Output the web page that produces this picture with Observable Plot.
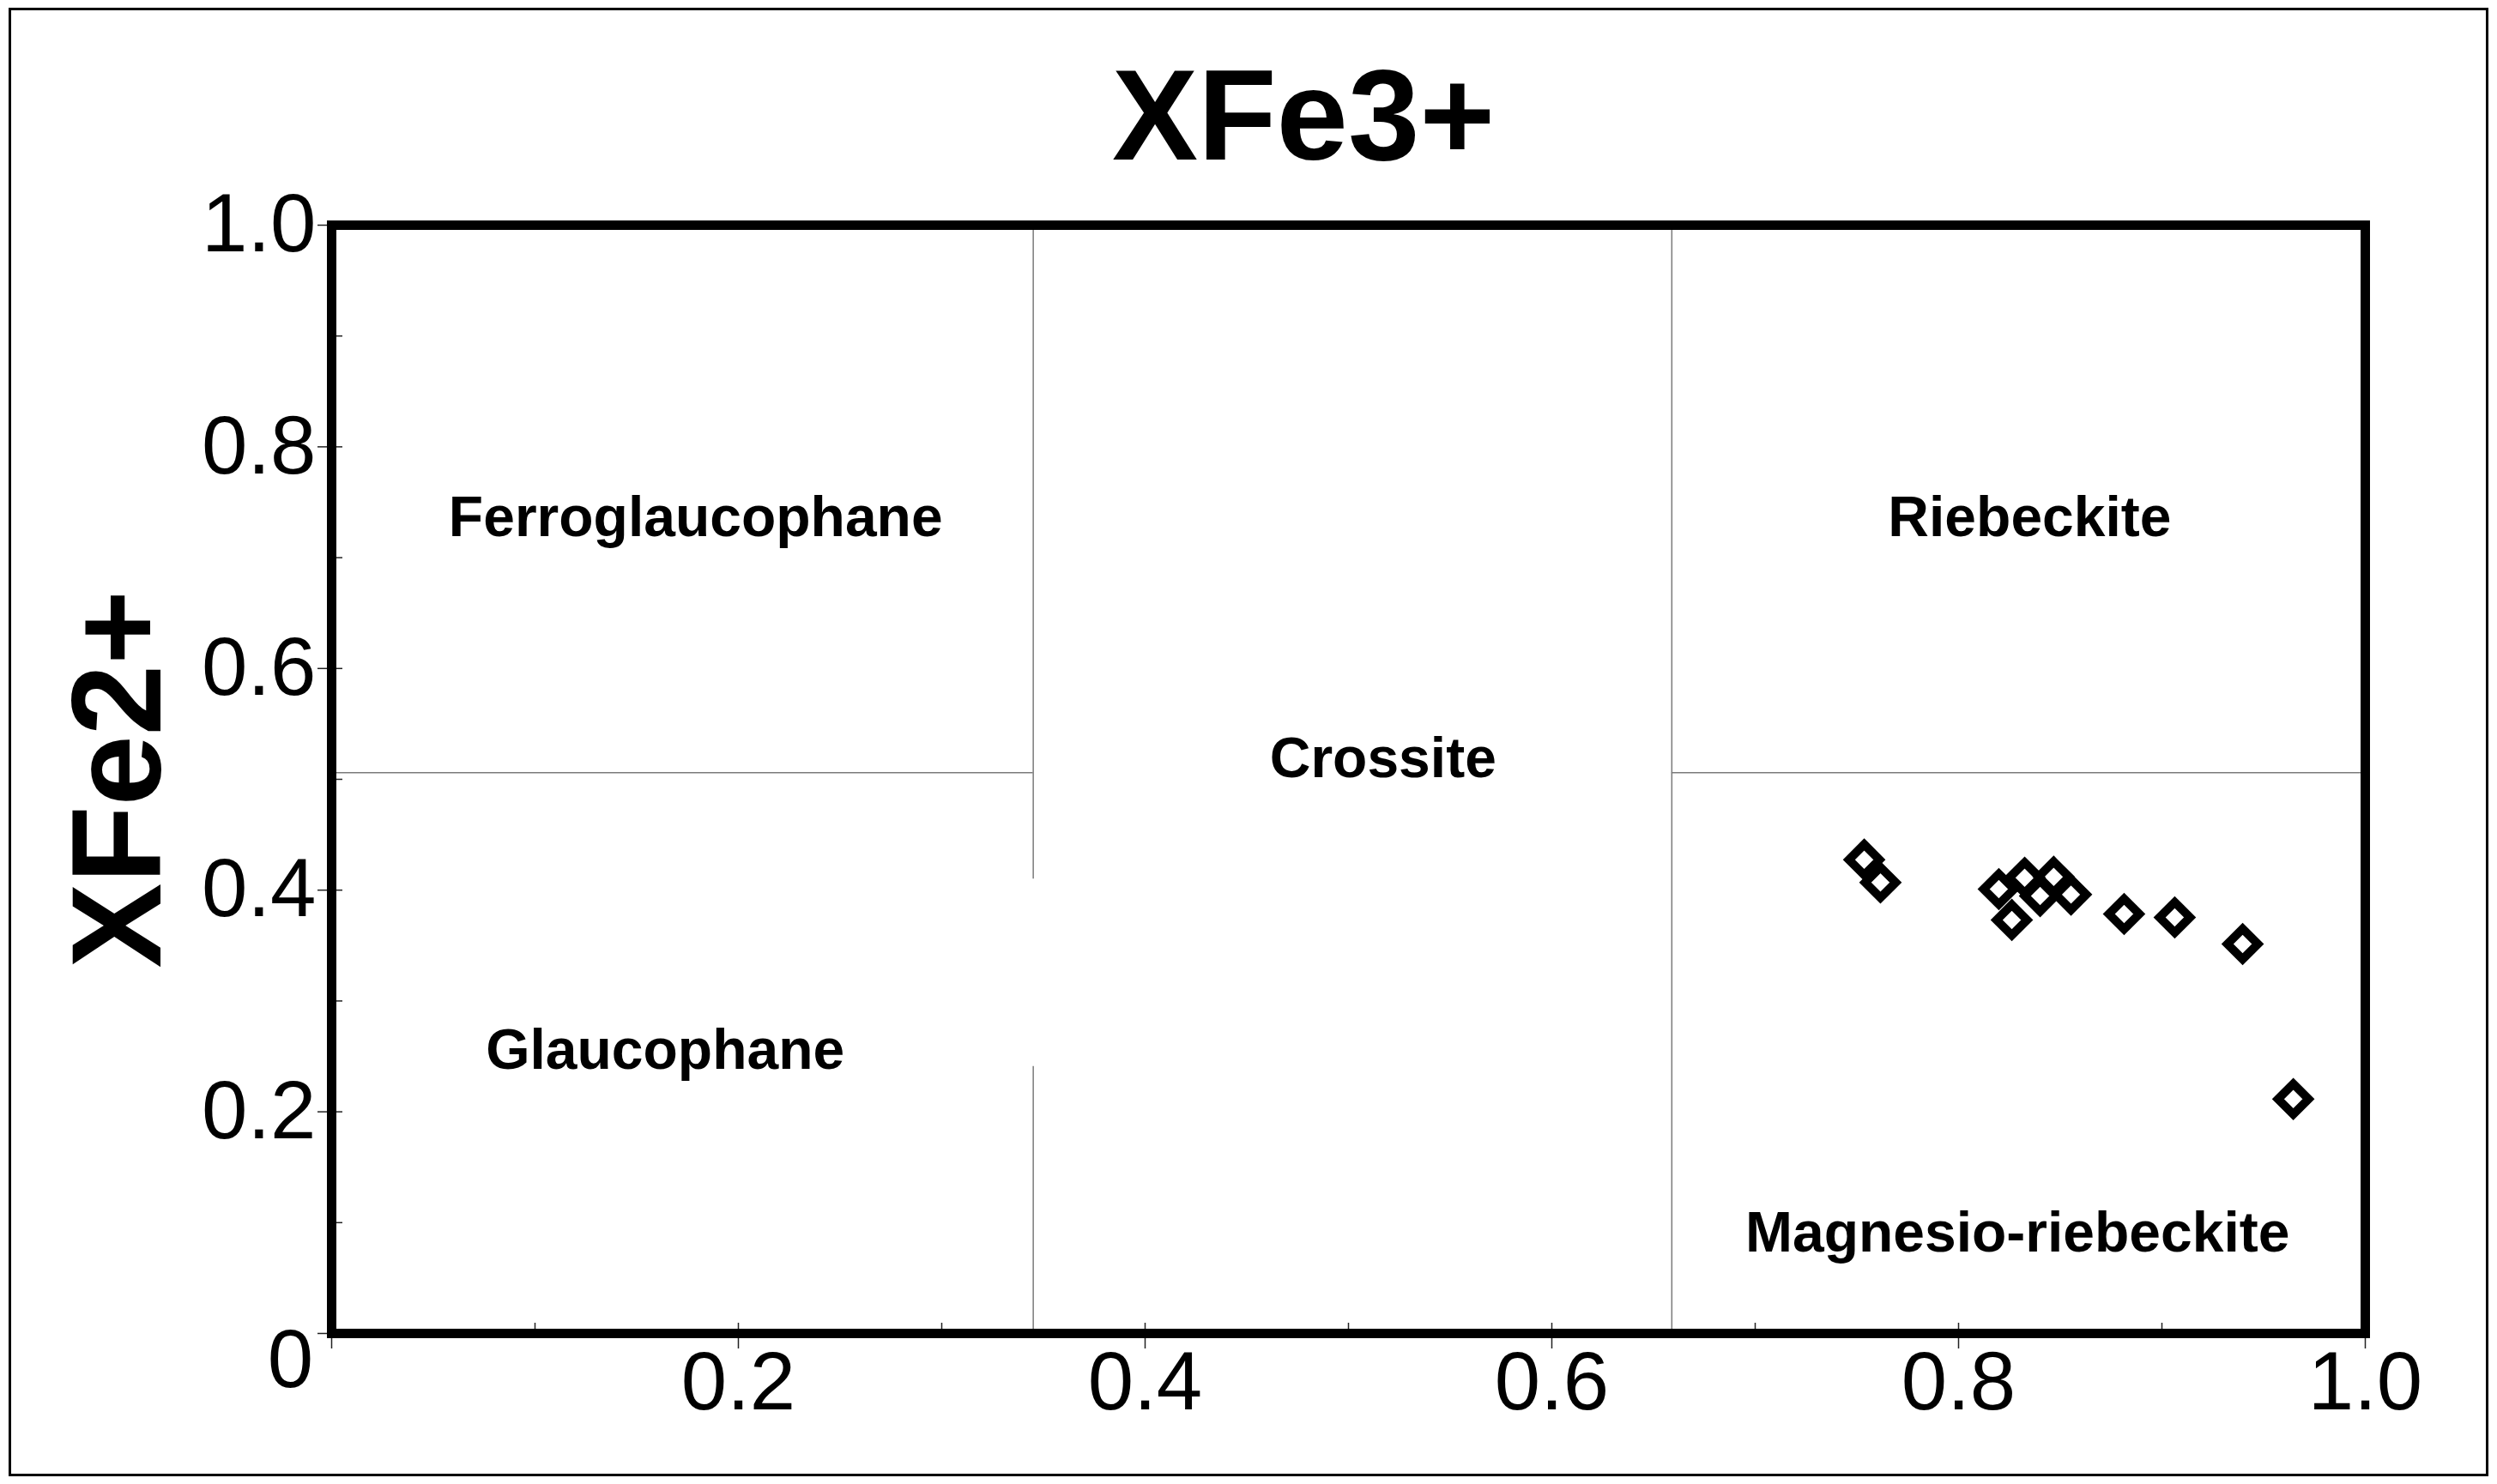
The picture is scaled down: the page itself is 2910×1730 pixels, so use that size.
<!DOCTYPE html>
<html>
<head>
<meta charset="utf-8">
<script src="https://cdn.jsdelivr.net/npm/d3@7"></script>
<script src="https://cdn.jsdelivr.net/npm/@observablehq/plot@0.6"></script>
<style>
html, body { margin: 0; padding: 0; background: #fff; }
#page { position: relative; width: 2910px; height: 1730px; background: #fff; overflow: hidden;
  font-family: "Liberation Sans", Arial, sans-serif; }
#border { position: absolute; left: 10px; top: 9px; width: 2890px; height: 1712px;
  border: 3px solid #000; box-sizing: border-box; z-index: 5; pointer-events: none; }
#title { position: absolute; top: 59px; left: 1519px; transform: translateX(-50%);
  font-size: 150px; font-weight: bold; line-height: 150px; white-space: nowrap; color: #000; z-index: 3; }
#chart { position: absolute; left: 0; top: 230px; z-index: 1; }
</style>
</head>
<body>
<div id="page">
  <div id="title"></div>
  <div id="chart"></div>
  <div id="border"></div>
</div>
<script>
// ---- data ----
const chartTitle = "XFe3+";
const yTitle = "XFe2+";

const sampleX = [0.7536, 0.7616, 0.8198, 0.8325, 0.8401, 0.8468, 0.8553, 0.8262, 0.8814, 0.9063, 0.9397, 0.9646];
const sampleY = [0.4275, 0.4069, 0.4009, 0.4112, 0.3947, 0.4120, 0.3960, 0.3731, 0.3785, 0.3754, 0.3514, 0.2115];

const fieldNames = ["Ferroglaucophane", "Riebeckite", "Crossite", "Glaucophane", "Magnesio-riebeckite"];
const fieldX = [0.179, 0.835, 0.517, 0.164, 0.829];
const fieldY = [0.736, 0.736, 0.518, 0.255, 0.090];

// field boundary lines (as drawn in the diagram)
const vBoundX  = [0.345, 0.345, 0.659];
const vBoundY1 = [0.000, 0.410, 0.000];
const vBoundY2 = [0.241, 1.000, 1.000];
const hBoundY  = [0.506, 0.506];
const hBoundX1 = [0.000, 0.659];
const hBoundX2 = [0.345, 1.000];

const majorTicks = [0, 0.2, 0.4, 0.6, 0.8, 1.0];
const minorTicks = [0.1, 0.3, 0.5, 0.7, 0.9];
const tickLabels = [0.2, 0.4, 0.6, 0.8, 1.0];
const originLabel = "0";

// ---- layout ----
const FONT = "'Liberation Sans', Arial, sans-serif";
const W = 2910, H = 1500, mL = 386, mR = 154, mT = 32, mB = 176;
const iW = W - mL - mR, iH = H - mT - mB;

document.getElementById("title").textContent = chartTitle;

const samples = sampleX.map((x, i) => ({x, y: sampleY[i]}));
const fields = fieldNames.map((name, i) => ({name, x: fieldX[i], y: fieldY[i]}));
const vBounds = vBoundX.map((x, i) => ({x, y1: vBoundY1[i], y2: vBoundY2[i]}));
const hBounds = hBoundY.map((y, i) => ({y, x1: hBoundX1[i], x2: hBoundX2[i]}));
const fmt = d3.format(".1f");

const chart = Plot.plot({
  width: W, height: H,
  marginLeft: mL, marginRight: mR, marginTop: mT, marginBottom: mB,
  style: {fontFamily: FONT, background: "transparent", color: "black", overflow: "visible"},
  x: {domain: [0, 1]},
  y: {domain: [0, 1]},
  marks: [
    Plot.ruleX(vBounds, {x: "x", y1: "y1", y2: "y2", stroke: "#7a7a7a", strokeWidth: 1.5}),
    Plot.ruleY(hBounds, {y: "y", x1: "x1", x2: "x2", stroke: "#7a7a7a", strokeWidth: 1.5}),
    Plot.tickX(majorTicks, {x: d => d, insetTop: iH - 12, insetBottom: -18, stroke: "#222", strokeWidth: 1.5}),
    Plot.tickX(minorTicks, {x: d => d, insetTop: iH - 12, stroke: "#222", strokeWidth: 1.5}),
    Plot.tickY(majorTicks, {y: d => d, insetRight: iW - 13, insetLeft: -16, stroke: "#222", strokeWidth: 1.5}),
    Plot.tickY(minorTicks, {y: d => d, insetRight: iW - 13, stroke: "#222", strokeWidth: 1.5}),
    Plot.frame({stroke: "black", strokeWidth: 11}),
    Plot.axisX(tickLabels, {anchor: "bottom", tickSize: 0, tickPadding: 20, tickFormat: fmt,
      fontSize: 96, label: null, fill: "black"}),
    Plot.axisY(tickLabels, {anchor: "left", tickSize: 0, tickPadding: 18, tickFormat: fmt,
      fontSize: 96, label: null, fill: "black"}),
    Plot.text([originLabel], {x: () => 0, y: () => 0, text: d => d, dx: -48, dy: 32,
      fontSize: 96, textAnchor: "middle", lineAnchor: "middle", fill: "black"}),
    Plot.text(fields, {x: "x", y: "y", text: "name", fontSize: 66, fontWeight: "bold",
      textAnchor: "middle", lineAnchor: "middle", fill: "black"}),
    Plot.dot(samples, {x: "x", y: "y", symbol: "diamond2", r: 16, stroke: "black",
      strokeWidth: 10, fill: "none"}),
    Plot.text([yTitle], {frameAnchor: "left", text: d => d, dx: 139 - mL, rotate: -90,
      fontSize: 148, fontWeight: "bold", textAnchor: "middle", lineAnchor: "middle", fill: "black"})
  ]
});

document.getElementById("chart").appendChild(chart);
</script>
</body>
</html>
